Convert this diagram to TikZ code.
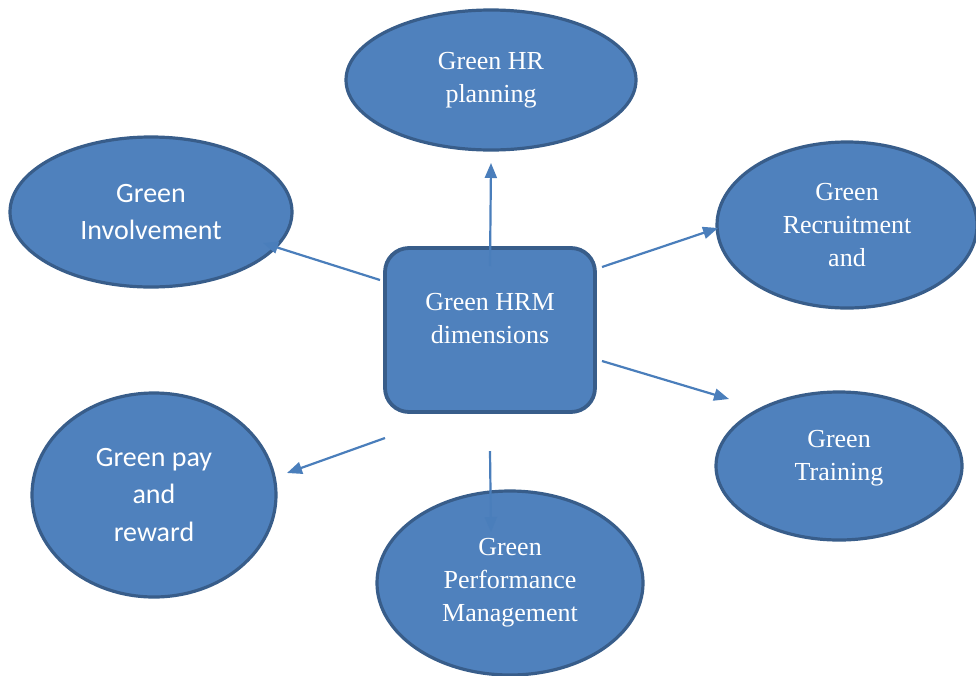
\documentclass[tikz,border=0pt]{standalone}
\usepackage{fontspec}
\setmainfont{Liberation Serif}
\newfontfamily\timesfont{Liberation Serif}
\newfontfamily\calibri{Carlito}
\usetikzlibrary{arrows.meta,shapes.geometric}
\definecolor{dimfill}{HTML}{4F81BD}
\definecolor{dimedge}{HTML}{385D8A}
\definecolor{linkblue}{HTML}{4A7EBB}
\begin{document}
\begin{tikzpicture}[x=1pt,y=-1pt,
  bubble/.style={ellipse, draw=dimedge, fill=dimfill, line width=3.2pt,
    text=white, align=center, inner sep=0pt},
  hub/.style={rectangle, rounded corners=24pt, draw=dimedge, fill=dimfill,
    line width=3.8pt, inner sep=0pt, minimum width=210pt, minimum height=164pt},
  romantext/.style={font=\timesfont\fontsize{26}{33}\selectfont},
  sanstext/.style={font=\calibri\fontsize{28}{37.5}\selectfont},
  lbl/.style={text=white, align=center, romantext},
  link/.style={draw=linkblue, line width=2.2pt, -{Triangle[length=15pt,width=12pt]}}]
\useasboundingbox (0,0) rectangle (976,675);

% central dimension box
\node[hub, label={[lbl, yshift=11pt]center:Green HRM\\dimensions}] (hrm) at (490,330) {};

% surrounding practices
\node[bubble, romantext, minimum width=290pt, minimum height=140pt] (plan) at (491,80) {Green HR\\planning};
\node[bubble, sanstext, minimum width=282pt, minimum height=150pt] (inv) at (151,212) {Green\\Involvement};
\node[bubble, romantext, minimum width=260pt, minimum height=166pt] (rec) at (847,225) {Green\\Recruitment\\and};
\node[bubble, minimum width=246pt, minimum height=148pt,
  label={[lbl, yshift=8pt]center:Green\\Training}] (train) at (839,466) {};
\node[bubble, romantext, minimum width=266pt, minimum height=184pt] (perf) at (510,583) {Green\\Performance\\Management};
\node[bubble, sanstext, minimum width=244pt, minimum height=204pt] (pay) at (154,495) {Green pay\\and\\reward};

% arrow ends
\coordinate (s1) at (490,266);  \coordinate (t1) at (491,163);
\coordinate (s2) at (602,267);  \coordinate (t2) at (718,228);
\coordinate (s3) at (602,361);  \coordinate (t3) at (729,399);
\coordinate (s4) at (490,451);  \coordinate (t4) at (491,532);
\coordinate (s5) at (385,438);  \coordinate (t5) at (287,473);
\coordinate (s6) at (380,280);  \coordinate (t6) at (263,243);

\draw[link] (s1) -- (t1);
\draw[link] (s2) -- (t2);
\draw[link] (s3) -- (t3);
\draw[link] (s4) -- (t4);
\draw[link] (s5) -- (t5);
\draw[link] (s6) -- (t6);
\end{tikzpicture}
\end{document}
